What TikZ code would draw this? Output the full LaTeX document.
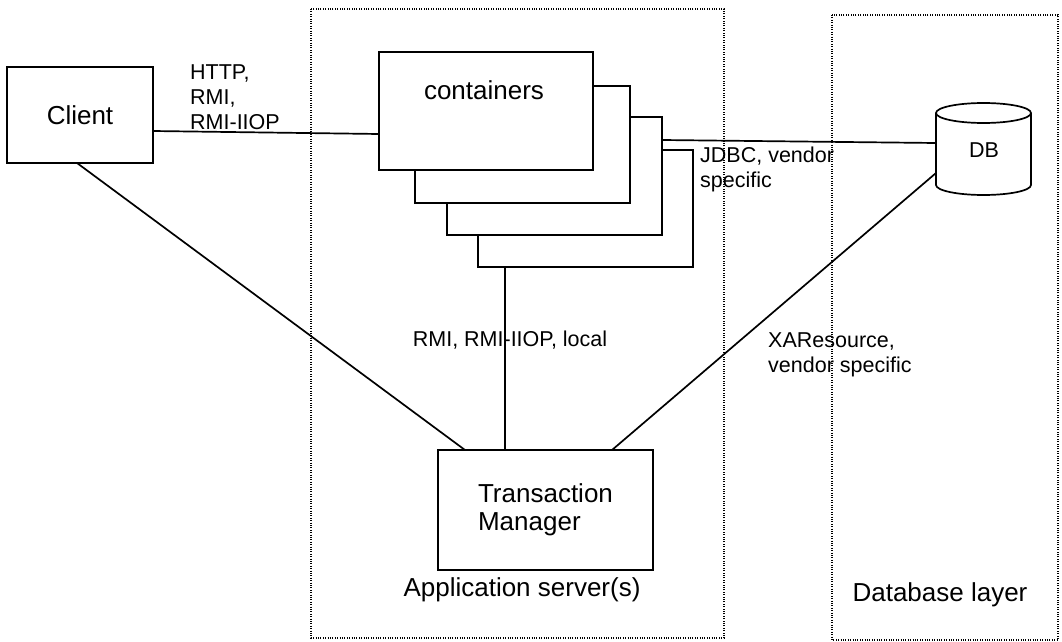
\documentclass[tikz,border=0pt]{standalone}
\usepackage{fontspec}
\setmainfont{Liberation Sans}
\begin{document}
\begin{tikzpicture}[x=1pt,y=-1pt,
  box/.style={draw, line width=1.8pt, fill=white, inner sep=0pt, outer sep=0pt, anchor=north west},
  big/.style={font=\fontsize{26}{28}\selectfont},
  small/.style={font=\fontsize{21.5}{25}\selectfont},
  link/.style={line width=1.7pt},
  zone/.style={line width=1.2pt, dash pattern=on 1pt off 1.4pt}]
\useasboundingbox (0,0) rectangle (1062,642);

% tiers
\draw[zone] (311,9) rectangle (724,638);
\draw[zone] (832,15) rectangle (1058,640);

% components
\node[box, big, minimum width=146pt, minimum height=96pt] (client) at (7,67) {Client};
\node[box, minimum width=215pt, minimum height=117pt] (c4) at (478,150) {};
\node[box, minimum width=215pt, minimum height=118pt] (c3) at (447,117) {};
\node[box, minimum width=215pt, minimum height=117pt] (c2) at (415,86) {};
\node[box, minimum width=214pt, minimum height=118pt] (c1) at (379,52) {};
\node[big] (ctext) at (484,90) {containers};
\node[box, big, align=left, minimum width=215pt, minimum height=120pt] (tm) at (438,450) {Transaction\\Manager};

% database cylinder
\node[inner sep=0pt, outer sep=0pt, anchor=north west, minimum width=95pt, minimum height=92pt] (db) at (936,103) {};
\draw[link, fill=white] (936,113) -- (936,185) arc[start angle=180, end angle=0, x radius=47.5, y radius=10] -- (1031,113);
\draw[link] (983.5,113) ellipse[x radius=47.5, y radius=10];
\node[small] (dbtext) at (984,150) {DB};

% connectors
\draw[link] ([yshift=-16pt]client.east) -- ([yshift=-23pt]c1.west);
\draw[link] ([yshift=36pt]c3.east) -- ([yshift=6pt]db.west);
\draw[link] ([yshift=-24pt]db.west) -- ([xshift=66.5pt]tm.north);
\draw[link] ([xshift=-3pt]client.south) -- ([xshift=-80.5pt]tm.north);
\draw[link] ([xshift=-80.5pt]c4.south) -- ([xshift=-40.5pt]tm.north);

% protocol labels
\node[small, align=left, anchor=north west, inner sep=0pt] (proto) at (190,64.5) {HTTP,\\RMI,\\RMI-IIOP};
\node[small, align=left, anchor=north west, inner sep=0pt] (jdbc) at (700,147) {JDBC, vendor\\specific};
\node[small, align=left, anchor=north west, inner sep=0pt] (xa) at (768,333) {XAResource,\\vendor specific};
\node[small] (rmi) at (510,340) {RMI, RMI-IIOP, local};

% tier captions
\node[big] (appcap) at (522,590) {Application server(s)};
\node[big] (dbcap) at (940,595) {Database layer};
\end{tikzpicture}
\end{document}
